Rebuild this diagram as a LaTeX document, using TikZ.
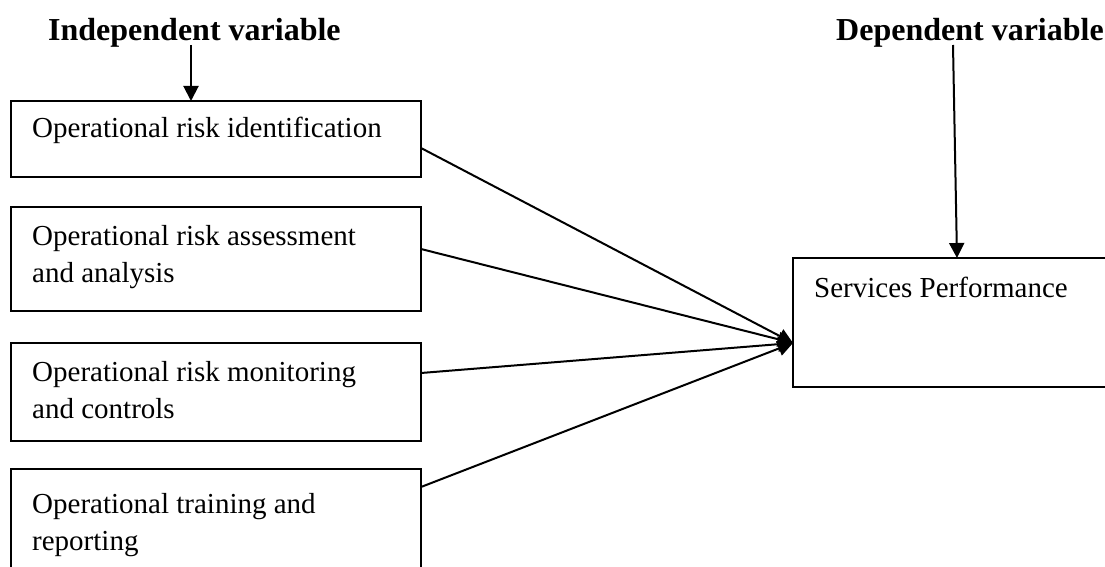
\documentclass[tikz,border=0pt]{standalone}
\usepackage{fontspec}
\setmainfont{Liberation Serif}
\usetikzlibrary{arrows.meta,calc}
\begin{document}
\begin{tikzpicture}[x=1pt,y=-1pt,
  box/.style={draw, line width=1.8pt, minimum width=410pt, inner sep=0pt, outer sep=0pt, anchor=north west},
  txt/.style={font=\fontsize{29}{37}\selectfont, anchor=base west, align=left, inner sep=0pt},
  head/.style={font=\fontsize{32}{38}\selectfont\bfseries, anchor=base west, inner sep=0pt},
  arr/.style={line width=2pt, -{Triangle[length=15pt,width=15pt]}}]
\useasboundingbox (0,0) rectangle (1105,567);
% headers
\node[head] (iv) at (48,41) {Independent variable};
\node[head] (dv) at (836,41) {Dependent variable};
% boxes
\node[box, minimum height=76pt] (b1) at (11,101) {};
\node[box, minimum height=104pt] (b2) at (11,207) {};
\node[box, minimum height=98pt] (b3) at (11,343) {};
\node[box, minimum height=140pt] (b4) at (11,469) {};
\node[box, minimum width=330pt, minimum height=129pt] (sp) at (793,258) {};
% texts (anchor = baseline of last line)
\node[txt] (t1) at (32,138) {Operational risk identification};
\node[txt] (t2) at (32,282) {Operational risk assessment\\and analysis};
\node[txt] (t3) at (32,418) {Operational risk monitoring\\and controls};
\node[txt] (t4) at (32,550) {Operational training and\\reporting};
\node[txt] (tsp) at (814,297) {Services Performance};
% header arrows
\coordinate (ivs) at (191,45);
\draw[arr] (ivs) -- (ivs |- b1.north);
\coordinate (dvs) at (953,45);
\draw[arr] (dvs) -- ($(sp.north west)+(164,0)$);
% converging arrows
\coordinate (hub) at ($(sp.north west)+(0,85)$);
\draw[arr] ($(b1.north east)+(0,47)$) -- (hub);
\draw[arr] ($(b2.north east)+(0,42)$) -- (hub);
\draw[arr] ($(b3.north east)+(0,30)$) -- (hub);
\draw[arr] ($(b4.north east)+(0,18)$) -- (hub);
\end{tikzpicture}
\end{document}
